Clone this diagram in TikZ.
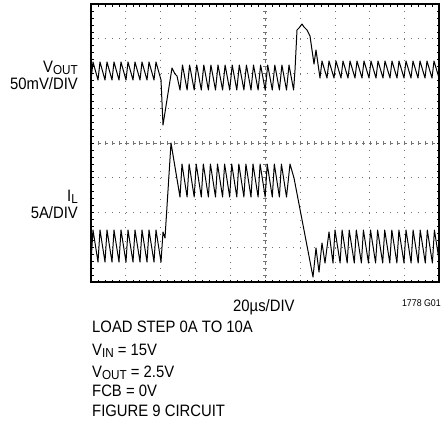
\documentclass[tikz,border=0pt]{standalone}
\usepackage{fontspec}
\setmainfont[FakeStretch=0.9]{Liberation Sans}
\usetikzlibrary{positioning}
\newcommand\lowsub[1]{\raisebox{-2pt}[\height][0pt]{\fontsize{13}{13}\selectfont #1}}
\tikzset{
    trace/.style={line width=1pt, line join=round},
    griddots/.style={black!55, line width=0.8pt, dash pattern=on 0.8pt off 6.16pt},
    centreline/.style={black!55, line width=0.7pt, dash pattern=on 3pt off 3.96pt},
    annot/.style={inner sep=0pt, font=\fontsize{16.5}{16.5}\selectfont},
}
\begin{document}
\begin{tikzpicture}[x=1pt, y=-1pt]
    \useasboundingbox (0,0) rectangle (442,423);

    % grid
    \foreach \i in {1,2,3,4,6,7,8,9}
        \draw[griddots] (91+34.85*\i,4) -- (91+34.85*\i,282);
    \foreach \j in {1,2,3,5,6,7}
        \draw[griddots] (91,4+34.75*\j) -- (439,4+34.75*\j);
    \draw[centreline] (91,143) -- (439,143);
    \draw[centreline] (265.2,4) -- (265.2,282);
    \foreach \k in {1,...,49} {
        \draw[black!55, line width=0.6pt] (91+6.97*\k,141) -- ++(0,4);
        \draw[line width=0.6pt] (91+6.97*\k,4) -- ++(0,2.5);
        \draw[line width=0.6pt] (91+6.97*\k,282) -- ++(0,-2.5);
    }
    \foreach \k in {1,...,39} {
        \draw[black!55, line width=0.6pt] (263.2,4+6.95*\k) -- ++(4,0);
        \draw[line width=0.6pt] (91,4+6.95*\k) -- ++(2.5,0);
        \draw[line width=0.6pt] (439,4+6.95*\k) -- ++(-2.5,0);
    }
    \draw[line width=1.2pt] (91,4) rectangle (439,282);

    % output voltage
    \draw[trace] (91,80) \foreach \k in {1,...,10} { -- ++(2,-18) -- ++(5,18) }
        -- (163,125) -- (172,68) -- (175,74) -- (177,76) -- (180,90)
        \foreach \k in {1,...,16} { -- ++(2.5,-25) -- ++(4.6,25) }
        -- (295,70) -- (297,30) -- (299,28) -- (302,24) -- (304,27) -- (307,30)
        -- (310,36) -- (314,64) -- (316,50) -- (320,78)
        \foreach \k in {1,...,17} { -- ++(2,-17) -- ++(5,17) };

    % inductor current
    \draw[trace] (91,262) \foreach \k in {1,...,10} { -- ++(2,-32) -- ++(5,32) }
        -- (163,232) -- (165,238) -- (171,143) -- (180,197)
        \foreach \k in {1,...,15} { -- ++(2,-33) -- ++(5.1,33) }
        -- (290,164) -- (294,178) -- (313,277) -- (316,248) -- (319,272)
        -- (322,243) -- (325,263) -- (329,232) -- (333,263)
        \foreach \k in {1,...,15} { -- ++(2,-33) -- ++(5.1,33) };

    % labels
    \node[annot, anchor=base east] (vout) at (78,72) {V\lowsub{OUT}};
    \node[annot, anchor=base east] (vdiv) at (78,89) {50mV/DIV};
    \node[annot, anchor=base east] (il) at (78,201) {I\lowsub{L}};
    \node[annot, anchor=base east] (idiv) at (78,218) {5A/DIV};
    \node[annot, anchor=base west] (tdiv) at (233,311) {20µs/DIV};
    \node[annot, anchor=base east, font=\fontsize{9.8}{9.8}\selectfont] (fig) at (441,306) {1778 G01};

    \node[annot, anchor=base west] (step) at (92,332) {LOAD STEP 0A TO 10A};
    \node[annot, anchor=base west] (vin) at (92,355) {V\lowsub{IN} = 15V};
    \node[annot, anchor=base west] (vset) at (92,377) {V\lowsub{OUT} = 2.5V};
    \node[annot, anchor=base west] (fcb) at (92,396) {FCB = 0V};
    \node[annot, anchor=base west] (circ) at (92,416) {FIGURE 9 CIRCUIT};
\end{tikzpicture}
\end{document}
